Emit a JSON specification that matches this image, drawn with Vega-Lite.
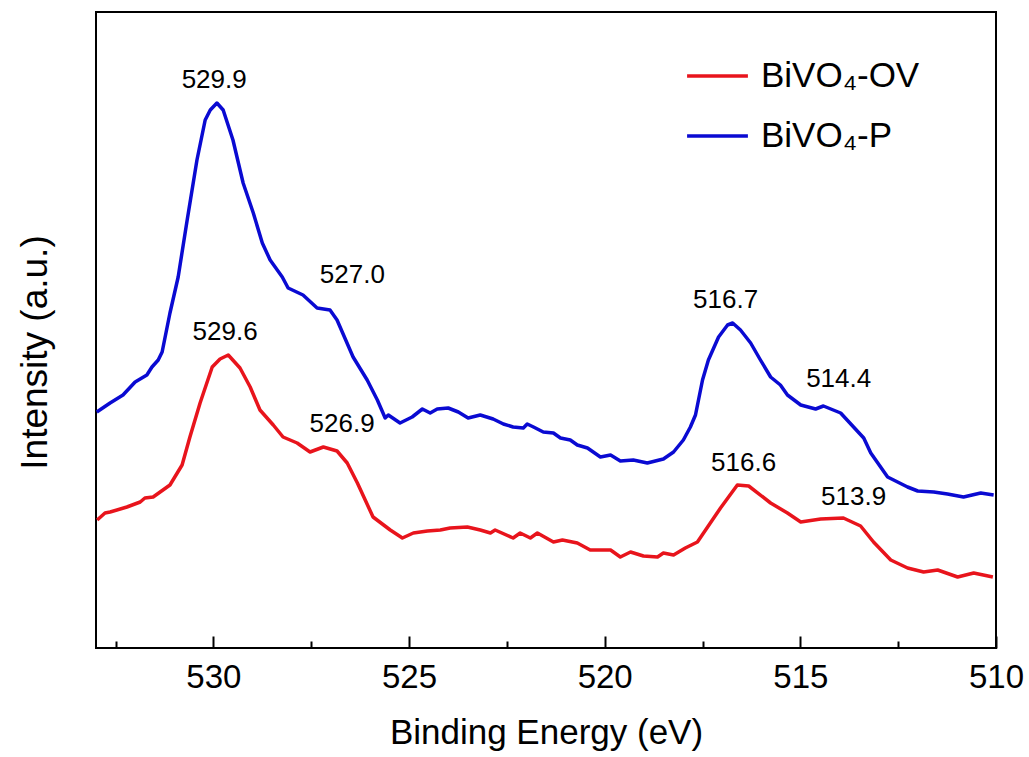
{
  "$schema": "https://vega.github.io/schema/vega-lite/v6.json",
  "width": 900,
  "height": 636,
  "autosize": {"type": "none"},
  "padding": {"left": 96, "top": 12, "right": 33, "bottom": 109},
  "background": "white",
  "config": {
    "view": {"stroke": "black", "strokeWidth": 2},
    "font": "Liberation Sans"
  },
  "datasets": {
    "spectra": [
      {"be": 532.98, "intensity": 236, "sample": "BiVO₄-P"},
      {"be": 532.64, "intensity": 245, "sample": "BiVO₄-P"},
      {"be": 532.31, "intensity": 253, "sample": "BiVO₄-P"},
      {"be": 532.00, "intensity": 266, "sample": "BiVO₄-P"},
      {"be": 531.70, "intensity": 273, "sample": "BiVO₄-P"},
      {"be": 531.57, "intensity": 281, "sample": "BiVO₄-P"},
      {"be": 531.41, "intensity": 288, "sample": "BiVO₄-P"},
      {"be": 531.31, "intensity": 296, "sample": "BiVO₄-P"},
      {"be": 531.11, "intensity": 335, "sample": "BiVO₄-P"},
      {"be": 530.90, "intensity": 371, "sample": "BiVO₄-P"},
      {"be": 530.67, "intensity": 428, "sample": "BiVO₄-P"},
      {"be": 530.42, "intensity": 488, "sample": "BiVO₄-P"},
      {"be": 530.21, "intensity": 528, "sample": "BiVO₄-P"},
      {"be": 530.08, "intensity": 538, "sample": "BiVO₄-P"},
      {"be": 529.91, "intensity": 545, "sample": "BiVO₄-P"},
      {"be": 529.75, "intensity": 538, "sample": "BiVO₄-P"},
      {"be": 529.50, "intensity": 508, "sample": "BiVO₄-P"},
      {"be": 529.24, "intensity": 465, "sample": "BiVO₄-P"},
      {"be": 528.98, "intensity": 435, "sample": "BiVO₄-P"},
      {"be": 528.75, "intensity": 405, "sample": "BiVO₄-P"},
      {"be": 528.55, "intensity": 388, "sample": "BiVO₄-P"},
      {"be": 528.24, "intensity": 371, "sample": "BiVO₄-P"},
      {"be": 528.09, "intensity": 360, "sample": "BiVO₄-P"},
      {"be": 527.71, "intensity": 353, "sample": "BiVO₄-P"},
      {"be": 527.35, "intensity": 340, "sample": "BiVO₄-P"},
      {"be": 527.02, "intensity": 338, "sample": "BiVO₄-P"},
      {"be": 526.84, "intensity": 328, "sample": "BiVO₄-P"},
      {"be": 526.43, "intensity": 291, "sample": "BiVO₄-P"},
      {"be": 526.07, "intensity": 268, "sample": "BiVO₄-P"},
      {"be": 525.81, "intensity": 248, "sample": "BiVO₄-P"},
      {"be": 525.61, "intensity": 230, "sample": "BiVO₄-P"},
      {"be": 525.53, "intensity": 233, "sample": "BiVO₄-P"},
      {"be": 525.23, "intensity": 225, "sample": "BiVO₄-P"},
      {"be": 524.92, "intensity": 231, "sample": "BiVO₄-P"},
      {"be": 524.66, "intensity": 239, "sample": "BiVO₄-P"},
      {"be": 524.46, "intensity": 235, "sample": "BiVO₄-P"},
      {"be": 524.28, "intensity": 239, "sample": "BiVO₄-P"},
      {"be": 524.00, "intensity": 240, "sample": "BiVO₄-P"},
      {"be": 523.74, "intensity": 236, "sample": "BiVO₄-P"},
      {"be": 523.49, "intensity": 230, "sample": "BiVO₄-P"},
      {"be": 523.18, "intensity": 233, "sample": "BiVO₄-P"},
      {"be": 522.85, "intensity": 229, "sample": "BiVO₄-P"},
      {"be": 522.59, "intensity": 224, "sample": "BiVO₄-P"},
      {"be": 522.34, "intensity": 221, "sample": "BiVO₄-P"},
      {"be": 522.08, "intensity": 220, "sample": "BiVO₄-P"},
      {"be": 521.98, "intensity": 224, "sample": "BiVO₄-P"},
      {"be": 521.82, "intensity": 221, "sample": "BiVO₄-P"},
      {"be": 521.57, "intensity": 216, "sample": "BiVO₄-P"},
      {"be": 521.31, "intensity": 215, "sample": "BiVO₄-P"},
      {"be": 521.13, "intensity": 210, "sample": "BiVO₄-P"},
      {"be": 520.88, "intensity": 208, "sample": "BiVO₄-P"},
      {"be": 520.70, "intensity": 203, "sample": "BiVO₄-P"},
      {"be": 520.44, "intensity": 200, "sample": "BiVO₄-P"},
      {"be": 520.11, "intensity": 191, "sample": "BiVO₄-P"},
      {"be": 519.85, "intensity": 193, "sample": "BiVO₄-P"},
      {"be": 519.60, "intensity": 187, "sample": "BiVO₄-P"},
      {"be": 519.27, "intensity": 188, "sample": "BiVO₄-P"},
      {"be": 518.91, "intensity": 185, "sample": "BiVO₄-P"},
      {"be": 518.50, "intensity": 189, "sample": "BiVO₄-P"},
      {"be": 518.24, "intensity": 196, "sample": "BiVO₄-P"},
      {"be": 517.99, "intensity": 208, "sample": "BiVO₄-P"},
      {"be": 517.81, "intensity": 221, "sample": "BiVO₄-P"},
      {"be": 517.68, "intensity": 233, "sample": "BiVO₄-P"},
      {"be": 517.50, "intensity": 268, "sample": "BiVO₄-P"},
      {"be": 517.35, "intensity": 288, "sample": "BiVO₄-P"},
      {"be": 517.09, "intensity": 311, "sample": "BiVO₄-P"},
      {"be": 516.86, "intensity": 323, "sample": "BiVO₄-P"},
      {"be": 516.73, "intensity": 325, "sample": "BiVO₄-P"},
      {"be": 516.53, "intensity": 318, "sample": "BiVO₄-P"},
      {"be": 516.27, "intensity": 305, "sample": "BiVO₄-P"},
      {"be": 516.02, "intensity": 288, "sample": "BiVO₄-P"},
      {"be": 515.76, "intensity": 271, "sample": "BiVO₄-P"},
      {"be": 515.51, "intensity": 263, "sample": "BiVO₄-P"},
      {"be": 515.33, "intensity": 253, "sample": "BiVO₄-P"},
      {"be": 514.99, "intensity": 243, "sample": "BiVO₄-P"},
      {"be": 514.61, "intensity": 239, "sample": "BiVO₄-P"},
      {"be": 514.41, "intensity": 242, "sample": "BiVO₄-P"},
      {"be": 513.97, "intensity": 235, "sample": "BiVO₄-P"},
      {"be": 513.64, "intensity": 221, "sample": "BiVO₄-P"},
      {"be": 513.38, "intensity": 210, "sample": "BiVO₄-P"},
      {"be": 513.20, "intensity": 195, "sample": "BiVO₄-P"},
      {"be": 512.77, "intensity": 171, "sample": "BiVO₄-P"},
      {"be": 512.26, "intensity": 161, "sample": "BiVO₄-P"},
      {"be": 512.00, "intensity": 157, "sample": "BiVO₄-P"},
      {"be": 511.59, "intensity": 156, "sample": "BiVO₄-P"},
      {"be": 511.24, "intensity": 154, "sample": "BiVO₄-P"},
      {"be": 510.83, "intensity": 151, "sample": "BiVO₄-P"},
      {"be": 510.39, "intensity": 155, "sample": "BiVO₄-P"},
      {"be": 510.06, "intensity": 153, "sample": "BiVO₄-P"},
      {"be": 532.97, "intensity": 128, "sample": "BiVO₄-OV"},
      {"be": 532.77, "intensity": 135, "sample": "BiVO₄-OV"},
      {"be": 532.64, "intensity": 136, "sample": "BiVO₄-OV"},
      {"be": 532.21, "intensity": 141, "sample": "BiVO₄-OV"},
      {"be": 531.87, "intensity": 146, "sample": "BiVO₄-OV"},
      {"be": 531.75, "intensity": 150, "sample": "BiVO₄-OV"},
      {"be": 531.54, "intensity": 151, "sample": "BiVO₄-OV"},
      {"be": 531.11, "intensity": 163, "sample": "BiVO₄-OV"},
      {"be": 530.80, "intensity": 183, "sample": "BiVO₄-OV"},
      {"be": 530.60, "intensity": 211, "sample": "BiVO₄-OV"},
      {"be": 530.34, "intensity": 245, "sample": "BiVO₄-OV"},
      {"be": 530.03, "intensity": 281, "sample": "BiVO₄-OV"},
      {"be": 529.83, "intensity": 289, "sample": "BiVO₄-OV"},
      {"be": 529.62, "intensity": 293, "sample": "BiVO₄-OV"},
      {"be": 529.32, "intensity": 280, "sample": "BiVO₄-OV"},
      {"be": 529.06, "intensity": 261, "sample": "BiVO₄-OV"},
      {"be": 528.81, "intensity": 238, "sample": "BiVO₄-OV"},
      {"be": 528.47, "intensity": 223, "sample": "BiVO₄-OV"},
      {"be": 528.22, "intensity": 211, "sample": "BiVO₄-OV"},
      {"be": 527.86, "intensity": 205, "sample": "BiVO₄-OV"},
      {"be": 527.53, "intensity": 196, "sample": "BiVO₄-OV"},
      {"be": 527.19, "intensity": 201, "sample": "BiVO₄-OV"},
      {"be": 526.84, "intensity": 197, "sample": "BiVO₄-OV"},
      {"be": 526.58, "intensity": 185, "sample": "BiVO₄-OV"},
      {"be": 526.32, "intensity": 165, "sample": "BiVO₄-OV"},
      {"be": 525.92, "intensity": 131, "sample": "BiVO₄-OV"},
      {"be": 525.48, "intensity": 118, "sample": "BiVO₄-OV"},
      {"be": 525.17, "intensity": 110, "sample": "BiVO₄-OV"},
      {"be": 524.89, "intensity": 115, "sample": "BiVO₄-OV"},
      {"be": 524.53, "intensity": 117, "sample": "BiVO₄-OV"},
      {"be": 524.20, "intensity": 118, "sample": "BiVO₄-OV"},
      {"be": 523.95, "intensity": 120, "sample": "BiVO₄-OV"},
      {"be": 523.51, "intensity": 121, "sample": "BiVO₄-OV"},
      {"be": 523.18, "intensity": 118, "sample": "BiVO₄-OV"},
      {"be": 522.92, "intensity": 115, "sample": "BiVO₄-OV"},
      {"be": 522.80, "intensity": 118, "sample": "BiVO₄-OV"},
      {"be": 522.34, "intensity": 110, "sample": "BiVO₄-OV"},
      {"be": 522.16, "intensity": 115, "sample": "BiVO₄-OV"},
      {"be": 521.90, "intensity": 110, "sample": "BiVO₄-OV"},
      {"be": 521.72, "intensity": 115, "sample": "BiVO₄-OV"},
      {"be": 521.31, "intensity": 106, "sample": "BiVO₄-OV"},
      {"be": 521.08, "intensity": 108, "sample": "BiVO₄-OV"},
      {"be": 520.70, "intensity": 105, "sample": "BiVO₄-OV"},
      {"be": 520.37, "intensity": 98, "sample": "BiVO₄-OV"},
      {"be": 519.85, "intensity": 98, "sample": "BiVO₄-OV"},
      {"be": 519.60, "intensity": 91, "sample": "BiVO₄-OV"},
      {"be": 519.34, "intensity": 96, "sample": "BiVO₄-OV"},
      {"be": 519.01, "intensity": 92, "sample": "BiVO₄-OV"},
      {"be": 518.65, "intensity": 91, "sample": "BiVO₄-OV"},
      {"be": 518.50, "intensity": 95, "sample": "BiVO₄-OV"},
      {"be": 518.24, "intensity": 93, "sample": "BiVO₄-OV"},
      {"be": 517.94, "intensity": 100, "sample": "BiVO₄-OV"},
      {"be": 517.63, "intensity": 106, "sample": "BiVO₄-OV"},
      {"be": 517.37, "intensity": 121, "sample": "BiVO₄-OV"},
      {"be": 517.04, "intensity": 140, "sample": "BiVO₄-OV"},
      {"be": 516.61, "intensity": 163, "sample": "BiVO₄-OV"},
      {"be": 516.32, "intensity": 162, "sample": "BiVO₄-OV"},
      {"be": 515.76, "intensity": 145, "sample": "BiVO₄-OV"},
      {"be": 515.33, "intensity": 135, "sample": "BiVO₄-OV"},
      {"be": 514.99, "intensity": 126, "sample": "BiVO₄-OV"},
      {"be": 514.48, "intensity": 129, "sample": "BiVO₄-OV"},
      {"be": 513.90, "intensity": 130, "sample": "BiVO₄-OV"},
      {"be": 513.46, "intensity": 122, "sample": "BiVO₄-OV"},
      {"be": 513.13, "intensity": 106, "sample": "BiVO₄-OV"},
      {"be": 512.69, "intensity": 88, "sample": "BiVO₄-OV"},
      {"be": 512.26, "intensity": 80, "sample": "BiVO₄-OV"},
      {"be": 511.85, "intensity": 76, "sample": "BiVO₄-OV"},
      {"be": 511.49, "intensity": 78, "sample": "BiVO₄-OV"},
      {"be": 510.98, "intensity": 71, "sample": "BiVO₄-OV"},
      {"be": 510.57, "intensity": 75, "sample": "BiVO₄-OV"},
      {"be": 510.08, "intensity": 71, "sample": "BiVO₄-OV"}
    ],
    "labels": [
      {"be": 529.98, "intensity": 568, "label": "529.9"},
      {"be": 526.45, "intensity": 373, "label": "527.0"},
      {"be": 529.70, "intensity": 316, "label": "529.6"},
      {"be": 526.71, "intensity": 224, "label": "526.9"},
      {"be": 516.91, "intensity": 348, "label": "516.7"},
      {"be": 514.02, "intensity": 269, "label": "514.4"},
      {"be": 516.45, "intensity": 185, "label": "516.6"},
      {"be": 513.64, "intensity": 151, "label": "513.9"}
    ]
  },
  "layer": [
    {
      "data": {"name": "spectra"},
      "mark": {"type": "line", "strokeWidth": 3.5, "strokeJoin": "round"},
      "encoding": {
        "x": {
          "field": "be",
          "type": "quantitative",
          "scale": {"domain": [533, 510], "nice": false, "zero": false},
          "axis": {
            "title": "Binding Energy (eV)",
            "titleFontSize": 35,
            "titleFont": "Liberation Sans",
            "titleFontWeight": "normal",
            "titleColor": "black",
            "titlePadding": 16,
            "values": [510, 512.5, 515, 517.5, 520, 522.5, 525, 527.5, 530, 532.5],
            "labelExpr": "datum.value % 5 === 0 ? datum.label : ''",
            "labelFontSize": 33,
            "labelFont": "Liberation Sans",
            "labelColor": "black",
            "labelPadding": 25,
            "labelFlush": false,
            "labelOverlap": false,
            "domain": false,
            "grid": false,
            "tickColor": "black",
            "tickWidth": 2,
            "tickSize": {"condition": {"test": "datum.value % 5 === 0", "value": -12}, "value": -7}
          }
        },
        "y": {
          "field": "intensity",
          "type": "quantitative",
          "scale": {"domain": [0, 636], "nice": false, "zero": false},
          "axis": {
            "title": "Intensity (a.u.)",
            "titleFontSize": 37,
            "titleFont": "Liberation Sans",
            "titleFontWeight": "normal",
            "titleColor": "black",
            "titlePadding": 42,
            "titleY": 340,
            "labels": false,
            "ticks": false,
            "domain": false,
            "grid": false
          }
        },
        "color": {
          "field": "sample",
          "type": "nominal",
          "scale": {"domain": ["BiVO₄-OV", "BiVO₄-P"], "range": ["#e8141c", "#0a0ad2"]},
          "legend": {
            "title": null,
            "orient": "none",
            "legendX": 589,
            "legendY": 44,
            "symbolType": "stroke",
            "symbolSize": 3700,
            "symbolStrokeWidth": 3.5,
            "labelFontSize": 35,
            "labelFont": "Liberation Sans",
            "labelColor": "black",
            "labelOffset": 11,
            "clipHeight": 40,
            "rowPadding": 20,
            "padding": 0
          }
        }
      }
    },
    {
      "data": {"name": "labels"},
      "mark": {"type": "text", "fontSize": 26, "font": "Liberation Sans", "color": "black", "align": "center", "baseline": "middle"},
      "encoding": {
        "x": {"field": "be", "type": "quantitative"},
        "y": {"field": "intensity", "type": "quantitative"},
        "text": {"field": "label"}
      }
    }
  ]
}
